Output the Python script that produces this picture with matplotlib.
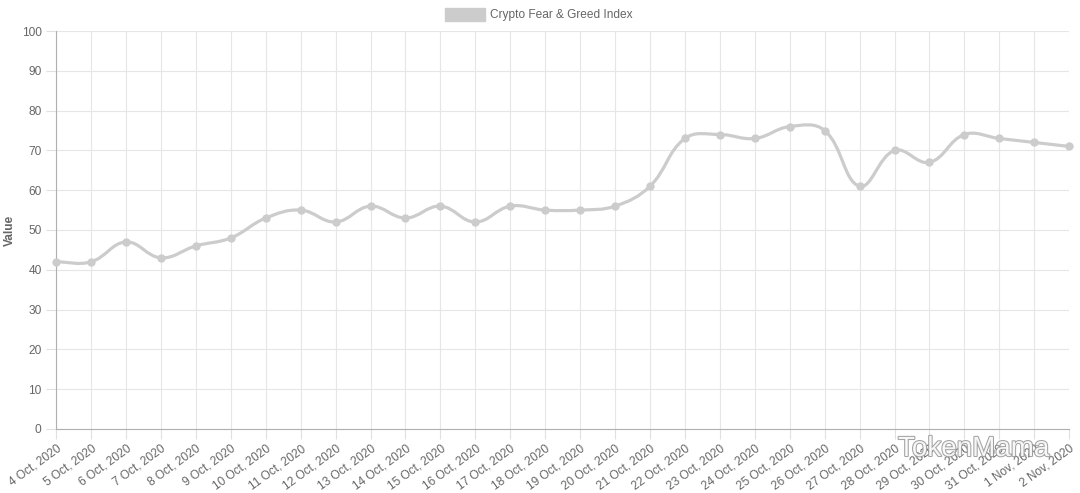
import numpy as np
import matplotlib.pyplot as plt
from matplotlib.path import Path
from matplotlib.patches import PathPatch, Rectangle
import matplotlib.patheffects as pe

plt.rcParams['font.family'] = ['Liberation Sans', 'DejaVu Sans']

# данные
days = ['4 Oct, 2020', '5 Oct, 2020', '6 Oct, 2020', '7 Oct, 2020', '8 Oct, 2020',
        '9 Oct, 2020', '10 Oct, 2020', '11 Oct, 2020', '12 Oct, 2020', '13 Oct, 2020',
        '14 Oct, 2020', '15 Oct, 2020', '16 Oct, 2020', '17 Oct, 2020', '18 Oct, 2020',
        '19 Oct, 2020', '20 Oct, 2020', '21 Oct, 2020', '22 Oct, 2020', '23 Oct, 2020',
        '24 Oct, 2020', '25 Oct, 2020', '26 Oct, 2020', '27 Oct, 2020', '28 Oct, 2020',
        '29 Oct, 2020', '30 Oct, 2020', '31 Oct, 2020', '1 Nov, 2020', '2 Nov, 2020']
values = [42, 42, 47, 43, 46, 48, 53, 55, 52, 56, 53, 56, 52, 56, 55,
          55, 56, 61, 73, 74, 73, 76, 75, 61, 70, 67, 74, 73, 72, 71]

line_color = '#cccccc'
text_color = '#666666'

fig = plt.figure(figsize=(10.8, 4.93), dpi=100)
ax = fig.add_axes([0.052, 0.130, 0.938, 0.807])
x = np.arange(len(values))
ax.set_xlim(0, len(values) - 1)
ax.set_ylim(0, 100)

# сглаженная линия как в Chart.js (tension 0.4), считаем в пикселях
fig.canvas.draw()
pts = ax.transData.transform(np.column_stack([x, values]))
t = 0.4
verts = [tuple(pts[0])]
codes = [Path.MOVETO]
cps = []
for i in range(len(pts)):
    prev = pts[max(i - 1, 0)]
    cur = pts[i]
    nxt = pts[min(i + 1, len(pts) - 1)]
    d01 = np.hypot(*(cur - prev))
    d12 = np.hypot(*(nxt - cur))
    s = d01 + d12
    s01 = d01 / s if s else 0
    s12 = d12 / s if s else 0
    cps.append((cur - t * s01 * (nxt - prev), cur + t * s12 * (nxt - prev)))
for i in range(1, len(pts)):
    verts += [tuple(cps[i - 1][1]), tuple(cps[i][0]), tuple(pts[i])]
    codes += [Path.CURVE4] * 3
inv = ax.transData.inverted()
path = Path(inv.transform(np.array(verts)), codes)
ax.add_patch(PathPatch(path, facecolor='none', edgecolor=line_color, lw=2.3,
                       capstyle='round', joinstyle='round', zorder=3))
ax.plot(x, values, 'o', color=line_color, ms=5, zorder=4, clip_on=False)

# оси и сетка
ax.set_xticks(x)
ax.set_xticklabels(days, rotation=36, ha='right', rotation_mode='anchor')
ax.set_yticks(range(0, 101, 10))
ax.grid(True, color='#e6e6e6', lw=0.8)
ax.set_axisbelow(True)
for side in ['top', 'right']:
    ax.spines[side].set_visible(False)
ax.spines['left'].set_color('#b0b0b0')
ax.spines['bottom'].set_color('#b0b0b0')
ax.tick_params(axis='both', colors='#e0e0e0', labelcolor=text_color,
               labelsize=8.6, length=7, width=0.8)
ax.tick_params(axis='x', pad=3)
ax.set_ylabel('Value', color=text_color, fontsize=8.6, fontweight='bold', labelpad=4)

# легенда
fig.patches.append(Rectangle((445 / 1080, 1 - 21 / 493), 40 / 1080, 13 / 493,
                             transform=fig.transFigure, color=line_color))
fig.text(490 / 1080, 1 - 15 / 493, 'Crypto Fear & Greed Index',
         color=text_color, fontsize=8.6, va='center', ha='left')

# водяной знак
fig.text(898 / 1080, 1 - 449 / 493, 'TokenMama', fontsize=20, color='white',
         va='center', ha='left', alpha=0.9,
         path_effects=[pe.withStroke(linewidth=1.5, foreground='#999999')])

fig.savefig('out.png', dpi=100)
